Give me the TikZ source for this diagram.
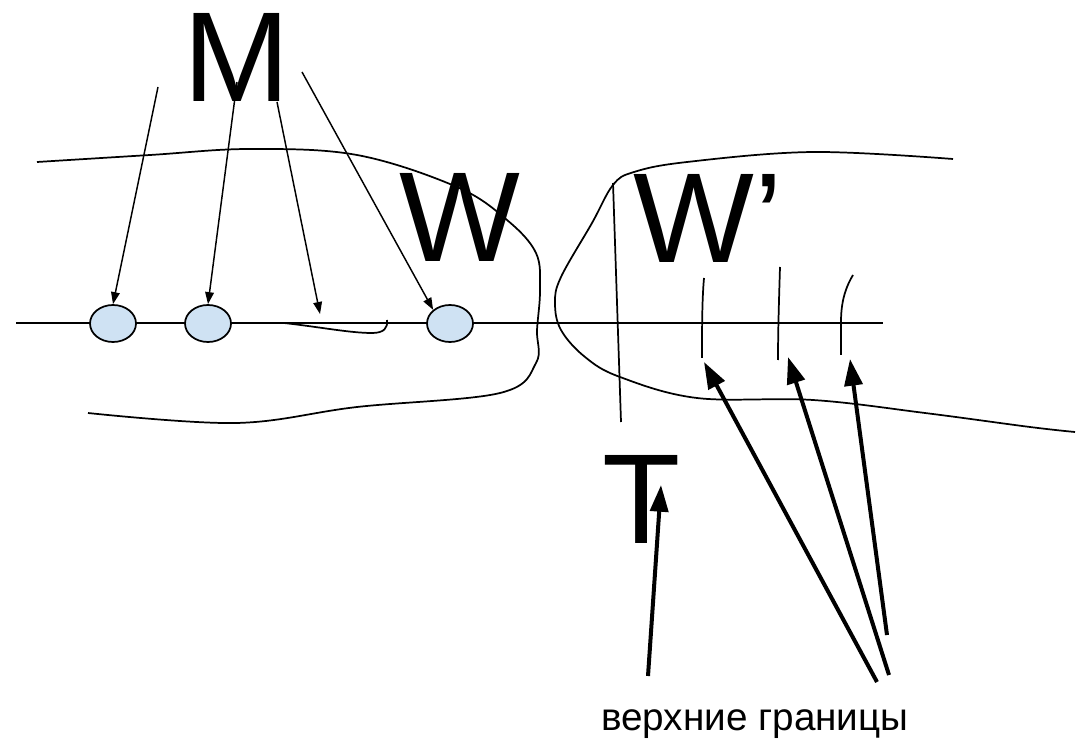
\documentclass[tikz,border=0pt]{standalone}
\usepackage{fontspec}
\setmainfont{Liberation Sans}
\usetikzlibrary{arrows.meta,shapes.geometric}
\definecolor{nodeblue}{HTML}{CFE2F3}
\begin{document}
\begin{tikzpicture}[x=0.75pt,y=-0.75pt,
  curve/.style={line width=1.3pt,line join=round},
  blob/.style={ellipse,draw,line width=1.3pt,fill=nodeblue,inner sep=0pt,
    minimum width=34.5pt,minimum height=27.75pt},
  bigletter/.style={font=\fontsize{96}{96}\selectfont,inner sep=0pt},
  caption/.style={font=\fontsize{29}{30}\selectfont,inner sep=0pt},
  thinarrow/.style={line width=1.1pt,-{Triangle[length=9pt,width=6.5pt]}},
  thickarrow/.style={line width=3pt,-{Triangle[length=20pt,width=13.5pt]}}]
\useasboundingbox (0,0) rectangle (1088,741);

% left region W
\draw[curve] plot[smooth,tension=0.6] coordinates {
  (37,162) (150,155) (250,149) (357,155) (457,187) (507,220) (536,253)
  (540,290) (537,330) (536,363) (500,393) (357,407) (236,423) (88,413)};

% right region W'
\draw[curve] plot[smooth,tension=0.6] coordinates {
  (953,159) (813,152) (687,162) (634,172) (613,185) (592,223) (561,277)
  (555,303) (561,330) (585,357) (620,377) (697,398) (813,400) (925,413)
  (1030,427) (1075,432)};

% main axis
\coordinate (axisL) at (16,323);
\coordinate (axisR) at (883,323);
\draw[curve] (axisL) -- (axisR);

% small hook on the axis
\draw[curve] (284,323) .. controls (320,327) and (350,333) .. (372,333)
  .. controls (384,333) and (388,328) .. (387,320);

% boundary T
\draw[curve] (613,183) -- (621,422);

% upper boundaries
\coordinate (b1) at (702,358);
\coordinate (b2) at (778,360);
\coordinate (b3) at (841,355);
\draw[curve] (704,278) .. controls (702,300) and (702,330) .. (b1);
\draw[curve] (780,267) .. controls (779,300) and (778,330) .. (b2);
\draw[curve] (853,275) .. controls (844,290) and (841,305) .. (841,322) -- (b3);

% particles on the axis
\node[blob] (e1) at (113,323.5) {};
\node[blob] (e2) at (208,323.5) {};
\node[blob] (e3) at (450,323.5) {};

% letters
\node[bigletter,anchor=base] (M) at (236.5,102) {M};
\node[bigletter,anchor=base] (W) at (460,262) {W};
\node[bigletter,anchor=base west] (Wp) at (633,263) {W’};
\node[bigletter,anchor=base] (T) at (641.5,543) {T};
\node[caption,anchor=base west] (cap) at (601,730) {верхние границы};

% arrows from M
\coordinate (m1) at (158,87);
\coordinate (m2) at (237,82);
\coordinate (m3) at (277,102);
\coordinate (m4) at (302,72);
\coordinate (hookpt) at (320,314);
\draw[thinarrow] (m1) -- (e1.north);
\draw[thinarrow] (m2) -- (e2.north);
\draw[thinarrow] (m3) -- (hookpt);
\draw[thinarrow] (m4) -- (e3.north west);

% arrows to T and to the upper boundaries
\coordinate (tT) at (648,676);
\coordinate (tipT) at (661,485);
\coordinate (s1) at (877,682);
\coordinate (s2) at (889,675);
\coordinate (s3) at (887,635);
\coordinate (p1) at (704,362);
\coordinate (p2) at (788,357);
\coordinate (p3) at (850,359);
\draw[thickarrow] (tT) -- (tipT);
\draw[thickarrow] (s1) -- (p1);
\draw[thickarrow] (s2) -- (p2);
\draw[thickarrow] (s3) -- (p3);
\end{tikzpicture}
\end{document}
